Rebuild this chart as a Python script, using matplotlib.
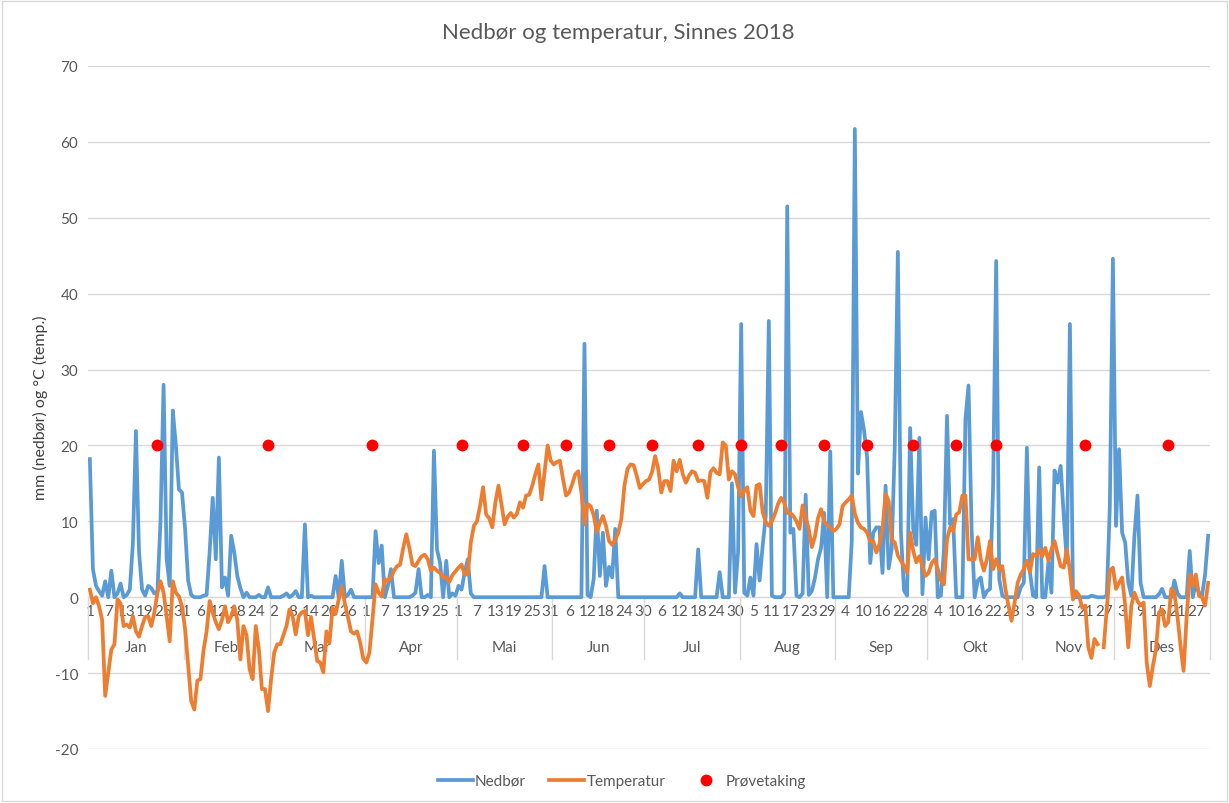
import numpy as np
import matplotlib
matplotlib.use("Agg")
import matplotlib.pyplot as plt
import pandas as pd
from matplotlib.patches import Rectangle
from matplotlib.lines import Line2D

plt.rcParams['font.family'] = ['Lato', 'DejaVu Sans']
plt.rcParams['axes.unicode_minus'] = False

months = ['Jan', 'Feb', 'Mar', 'Apr', 'Mai', 'Jun', 'Jul', 'Aug', 'Sep', 'Okt', 'Nov', 'Des']

# Daily precipitation (mm), one row per month
nedbor = (
    [18.2, 3.7, 1.5, 0.8, 0.2, 2.1, 0.0, 3.5, 0.0, 0.5, 1.8, 0.0, 0.3, 1.0, 7.0, 21.9, 6.0, 1.0, 0.2, 1.5,
     1.2, 0.5, 0.8, 10.0, 28.0, 5.0, 1.5, 24.6, 20.0, 14.2, 13.8] +
    [9.0, 2.2, 0.3, 0.0, 0.0, 0.0, 0.2, 0.3, 6.0, 13.1, 5.0, 18.4, 1.3, 2.6, 0.2, 8.1, 5.9, 2.8, 1.2, 0.0,
     0.6, 0.0, 0.0, 0.0, 0.3, 0.0, 0.0, 1.3] +
    [0.0, 0.0, 0.0, 0.0, 0.2, 0.5, 0.0, 0.3, 0.8, 0.0, 0.0, 9.6, 0.0, 0.2, 0.0, 0.0, 0.0, 0.0, 0.0, 0.0,
     0.0, 2.8, 0.0, 4.8, 0.0, 0.3, 1.0, 0.0, 0.0, 0.0, 0.0] +
    [0.0, 0.0, 0.0, 8.7, 4.5, 6.8, 0.0, 1.5, 3.7, 0.0, 0.0, 0.0, 0.0, 0.0, 0.0, 0.2, 0.6, 3.7, 0.0, 0.0,
     0.3, 0.0, 19.3, 6.3, 4.5, 0.0, 4.8, 0.0, 0.5, 0.2] +
    [1.5, 1.0, 3.3, 5.0, 0.5, 0.0, 0.0, 0.0, 0.0, 0.0, 0.0, 0.0, 0.0, 0.0, 0.0, 0.0, 0.0, 0.0, 0.0, 0.0,
     0.0, 0.0, 0.0, 0.0, 0.0, 0.0, 0.0, 0.0, 4.1, 0.0, 0.0] +
    [0.0, 0.0, 0.0, 0.0, 0.0, 0.0, 0.0, 0.0, 0.0, 0.0, 33.4, 0.3, 0.0, 2.4, 11.4, 2.8, 8.5, 1.5, 4.0, 2.6,
     9.0, 0.0, 0.0, 0.0, 0.0, 0.0, 0.0, 0.0, 0.0, 0.0] +
    [0.0, 0.0, 0.0, 0.0, 0.0, 0.0, 0.0, 0.0, 0.0, 0.0, 0.0, 0.5, 0.0, 0.0, 0.0, 0.0, 0.0, 6.3, 0.0, 0.0,
     0.0, 0.0, 0.0, 0.0, 3.3, 0.0, 0.0, 0.0, 15.0, 0.6, 6.0] +
    [36.0, 0.6, 0.2, 2.6, 0.2, 7.0, 2.2, 6.8, 10.7, 36.4, 0.2, 0.0, 0.0, 0.0, 0.5, 51.5, 8.5, 9.0, 0.2, 0.0,
     0.5, 13.5, 0.3, 0.8, 2.5, 5.0, 6.5, 11.1, 0.0, 19.2, 0.0] +
    [0.0, 0.0, 0.0, 0.0, 0.0, 7.4, 61.7, 16.3, 24.4, 22.0, 18.4, 4.5, 8.5, 9.2, 9.2, 3.2, 14.7, 3.8, 6.4, 19.9,
     45.5, 8.5, 0.9, 0.2, 22.3, 9.0, 6.9, 21.0, 0.4, 10.5] +
    [5.0, 11.2, 11.4, 0.0, 0.2, 6.3, 23.9, 9.6, 10.3, 0.0, 0.0, 0.0, 23.5, 27.9, 9.0, 0.0, 2.2, 2.6, 0.0, 0.8,
     1.1, 14.7, 44.3, 2.4, 0.2, 0.0, 0.0, 0.0, 0.0, 0.0, 1.3] +
    [1.9, 19.7, 3.3, 0.2, 0.0, 17.1, 0.0, 0.0, 4.6, 0.6, 16.7, 15.1, 17.3, 10.7, 4.6, 36.0, 0.2, 0.0, 0.0, 0.0,
     0.0, 0.0, 0.2, 0.1, 0.0, 0.0, 0.0, 0.2, 12.0, 44.6] +
    [9.4, 19.5, 8.5, 7.2, 1.9, 0.2, 8.1, 13.4, 1.9, 0.0, 0.0, 0.0, 0.0, 0.0, 0.4, 1.1, 0.0, 0.0, 0.0, 2.2,
     0.5, 0.0, 0.0, 0.0, 6.1, 0.0, 1.9, 0.6, 0.2, 3.0, 8.1]
)

# Daily mean temperature (deg C), one row per month
temperatur = (
    [1.0, -0.8, 0.0, -1.2, -3.0, -13.0, -9.9, -6.9, -6.2, -0.3, -0.8, -3.8, -3.6, -4.0, -2.5, -4.5, -5.2, -3.8, -2.6, -2.5,
     -3.8, -2.0, 0.6, 2.1, 0.6, -2.5, -5.8, 2.1, 0.6, 0.1, -1.2] +
    [-4.2, -9.0, -13.7, -14.8, -11.0, -10.8, -7.0, -4.5, -0.5, -2.0, -3.3, -4.2, -3.0, -1.2, -3.3, -2.5, -1.2, -3.0, -8.2, -3.8,
     -5.0, -9.5, -10.8, -3.8, -6.8, -12.1, -12.1, -15.0] +
    [-10.8, -7.3, -6.2, -6.2, -5.0, -3.8, -1.6, -2.5, -4.9, -2.5, -2.0, -1.8, -5.0, -2.6, -5.5, -8.4, -8.6, -9.9, -4.5, -6.0,
     -1.4, -2.2, -0.3, 1.4, -0.8, -2.6, -4.5, -4.8, -4.5, -6.0, -8.1] +
    [-8.6, -7.3, -2.9, 1.7, 0.6, 0.1, 2.4, 2.1, 2.6, 3.5, 4.1, 4.3, 6.5, 8.3, 6.5, 4.3, 4.1, 4.8, 5.4, 5.6,
     5.0, 3.5, 3.9, 3.5, 3.2, 2.6, 2.6, 2.0, 2.9, 3.4] +
    [3.9, 4.3, 3.0, 3.0, 7.2, 9.4, 10.0, 12.0, 14.5, 10.9, 10.4, 9.2, 12.5, 14.7, 12.2, 9.6, 10.6, 11.1, 10.5, 11.0,
     12.5, 11.8, 13.4, 13.5, 14.7, 16.2, 17.5, 12.9, 16.4, 20.0, 18.0] +
    [17.5, 17.8, 18.0, 15.6, 13.4, 13.8, 14.9, 16.2, 16.6, 13.8, 9.6, 12.3, 12.0, 10.8, 8.6, 9.8, 10.7, 9.4, 7.4, 6.9,
     7.6, 8.5, 10.3, 14.7, 16.9, 17.5, 17.4, 16.0, 14.4, 14.9] +
    [15.3, 15.5, 16.5, 18.6, 16.9, 13.8, 15.3, 15.3, 14.0, 18.0, 16.6, 18.1, 16.2, 15.1, 16.0, 16.6, 16.4, 15.3, 15.4, 15.3,
     13.1, 16.5, 17.0, 16.4, 16.2, 20.4, 20.0, 15.5, 16.6, 16.2, 14.5] +
    [13.3, 14.0, 14.5, 11.4, 10.7, 14.7, 14.9, 11.2, 9.9, 9.4, 10.0, 11.0, 12.3, 13.1, 12.5, 11.1, 11.1, 10.7, 10.0, 9.0,
     12.1, 10.5, 9.0, 6.6, 8.0, 10.4, 11.6, 10.0, 9.5, 9.2, 8.7] +
    [9.0, 9.6, 12.0, 12.5, 12.9, 13.4, 11.0, 9.8, 9.2, 9.0, 8.5, 7.4, 7.4, 5.9, 7.0, 9.0, 13.6, 12.7, 7.6, 7.2,
     5.5, 4.8, 4.1, 3.2, 8.5, 6.1, 4.6, 5.4, 4.1, 2.8] +
    [3.2, 4.5, 5.0, 3.7, 2.2, 1.7, 7.6, 9.2, 8.7, 10.9, 11.2, 13.4, 13.4, 5.0, 5.0, 5.0, 7.9, 5.0, 3.5, 5.0,
     7.4, 3.7, 5.0, 3.7, 4.1, 1.1, -1.1, -3.1, -0.7, 1.9, 3.0] +
    [3.7, 4.8, 3.3, 5.7, 5.4, 6.3, 5.4, 6.5, 4.8, 6.3, 7.4, 5.7, 4.1, 3.9, 6.3, 3.5, -0.3, 0.8, 0.2, -1.4,
     -1.1, -6.6, -8.0, -5.5, -6.2, np.nan, -6.6, -1.6, 3.5, 3.9] +
    [1.1, 1.9, 2.6, -1.1, -6.6, -1.1, 0.6, -0.5, -1.1, -0.7, -8.6, -11.7, -9.1, -6.9, -2.0, -1.6, -3.8, -3.3, 1.1, 0.6,
     -2.5, -6.4, -9.7, -2.5, 3.0, 1.5, 3.0, 0.2, 0.0, -1.1, 1.9]
)

# Sampling days (day index in year) plotted at 20
provetaking_dager = [22, 58, 92, 121, 141, 155, 169, 183, 198, 212, 225, 239, 253, 268, 282, 295, 324, 351]
provetaking_verdi = [20] * len(provetaking_dager)

dates = pd.date_range('2018-01-01', '2018-12-31', freq='D')
x = np.arange(len(dates))
if len(nedbor) != len(x) or len(temperatur) != len(x):
    raise SystemExit(f"length mismatch {len(nedbor)} {len(temperatur)}")

GRAY_TXT = '#595959'
GRID = '#d9d9d9'
LW = 2.7

fig = plt.figure(figsize=(12.29, 8.04), dpi=100)
ax = fig.add_axes([88 / 1229, 1 - 750 / 804, (1210 - 88) / 1229, (750 - 67) / 804])
ax.set_xlim(-0.6, 364.6)
ax.set_ylim(-20, 70)
ax.set_yticks(np.arange(-20, 71, 10))
ax.yaxis.grid(True, color=GRID, lw=1.0)
ax.set_axisbelow(True)
for s in ['top', 'right', 'left']:
    ax.spines[s].set_visible(False)
ax.spines['bottom'].set_position(('data', 0))
ax.spines['bottom'].set_color(GRID)
ax.spines['bottom'].set_zorder(0.6)

tick_idx = x[::6]
ax.set_xticks(tick_idx)
ax.set_xticklabels([str(d.day) for d in dates[::6]])
ax.tick_params(axis='x', length=0, pad=5, labelsize=11, labelcolor=GRAY_TXT)
ax.tick_params(axis='y', length=0, pad=7, labelsize=11, labelcolor=GRAY_TXT)

# month separators and month labels (second level of category axis)
month_starts = [i for i, d in enumerate(dates) if d.day == 1] + [len(dates)]
for b in month_starts:
    ax.plot([b - 0.5, b - 0.5], [0, -8.2], color=GRID, lw=1.0, zorder=0.7, clip_on=False)
for m, (s, e) in enumerate(zip(month_starts[:-1], month_starts[1:])):
    ax.text((s + e - 1) / 2, -6.6, months[m], ha='center', va='center', fontsize=11,
            color=GRAY_TXT, zorder=0.8)

ax.plot(x, nedbor, color='#5B9BD5', lw=LW, zorder=3, solid_joinstyle='round')
ax.plot(x, temperatur, color='#ED7D31', lw=LW, zorder=4, solid_joinstyle='round')
ax.plot(provetaking_dager, provetaking_verdi, linestyle='none', marker='o', ms=7.5,
        color='#FF0000', zorder=5)

fig.text(0.503, 1 - 33 / 804, 'Nedbør og temperatur, Sinnes 2018', ha='center', va='center',
         fontsize=16, color=GRAY_TXT)
fig.text(40 / 1229, 1 - 408 / 804, 'mm (nedbør) og °C (temp.)', rotation=90, ha='center',
         va='center', fontsize=11.5, color='#404040')

handles = [Line2D([], [], color='#5B9BD5', lw=LW),
           Line2D([], [], color='#ED7D31', lw=LW),
           Line2D([], [], color='#FF0000', marker='o', ms=7.5, linestyle='none')]
leg = fig.legend(handles, ['Nedbør', 'Temperatur', 'Prøvetaking'], loc='center',
                 bbox_to_anchor=(0.506, 1 - 782 / 804), ncol=3, frameon=False, fontsize=11,
                 handlelength=2.3, handletextpad=0.15, columnspacing=1.5)
for t in leg.get_texts():
    t.set_color(GRAY_TXT)

fig.patches.append(Rectangle((0.002, 0.002), 0.996, 0.995, transform=fig.transFigure,
                             fill=False, edgecolor=GRID, lw=1.0))

fig.savefig('out.png', dpi=100)
